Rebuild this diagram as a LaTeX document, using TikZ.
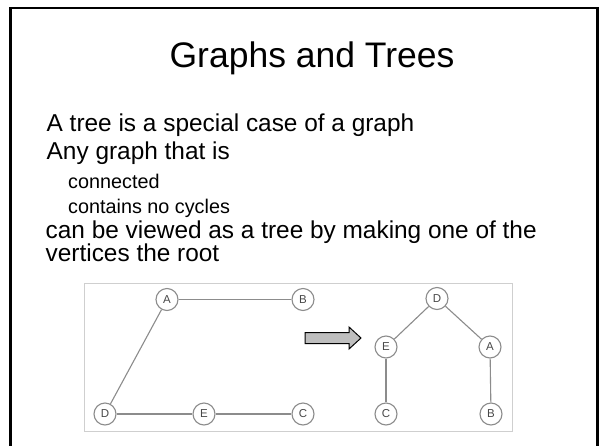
\documentclass[tikz,border=0pt]{standalone}
\usepackage{fontspec}
\setmainfont{Liberation Sans}
\begin{document}
\begin{tikzpicture}[x=1pt,y=-1pt,
  vtx/.style={circle,draw=vgray,fill=white,line width=1.1pt,minimum size=22pt,inner sep=0pt,font=\fontsize{11.5}{13}\selectfont,text=vtext},
  edge/.style={draw=vgray,line width=1.1pt},
  body/.style={anchor=base west,inner sep=0pt,font=\fontsize{24.4}{28}\selectfont},
  sub/.style={anchor=base west,inner sep=0pt,font=\fontsize{19.8}{24}\selectfont}]
\definecolor{vgray}{HTML}{8C8C8C}
\definecolor{vtext}{HTML}{484848}
\definecolor{boxgray}{HTML}{CFCFCF}
\definecolor{arrowfill}{HTML}{BEBEBE}
\useasboundingbox (0,0) rectangle (600,445);
\fill[white] (0,0) rectangle (600,445);
% slide frame
\draw[line width=2.2pt] (10.5,446) -- (10.5,8) -- (597.5,8) -- (597.5,446);
% title
\node[anchor=base,inner sep=0pt,font=\fontsize{35.5}{40}\selectfont] (title) at (312,67) {Graphs and Trees};
% body text
\node[body] (l1) at (46.5,131.5) {A tree is a special case of a graph};
\node[body] (l2) at (46.5,159) {Any graph that is};
\node[sub] (s1) at (68,188) {connected};
\node[sub] (s2) at (68,213) {contains no cycles};
\node[body] (l5) at (45.5,238) {can be viewed as a tree by making one of the};
\node[body] (l6) at (45.5,261.5) {vertices the root};
% figure box
\draw[boxgray,line width=1pt] (84,283) rectangle (512,431);
% graph
\node[vtx] (gA) at (167,299.5) {A};
\node[vtx] (gB) at (303,299.5) {B};
\node[vtx] (gD) at (105,414) {D};
\node[vtx] (gE) at (204,414) {E};
\node[vtx] (gC) at (303,414) {C};
\draw[edge] (gA) -- (gB);
\draw[edge] (gA) -- (gD);
\draw[edge] (gD) -- (gE);
\draw[edge] (gE) -- (gC);
% arrow
\draw[fill=arrowfill,line width=1pt,line join=miter]
  (305,332.5) -- (349,332.5) -- (349,327) -- (361,338) -- (349,349) -- (349,343.5) -- (305,343.5) -- cycle;
% tree
\node[vtx] (tD) at (437,298.5) {D};
\node[vtx] (tE) at (386,347) {E};
\node[vtx] (tA) at (490,347) {A};
\node[vtx] (tC) at (386,414) {C};
\node[vtx] (tB) at (491,414) {B};
\draw[edge] (tD) -- (tE);
\draw[edge] (tD) -- (tA);
\draw[edge] (tE) -- (tC);
\draw[edge] (tA) -- (tB);
\end{tikzpicture}
\end{document}
